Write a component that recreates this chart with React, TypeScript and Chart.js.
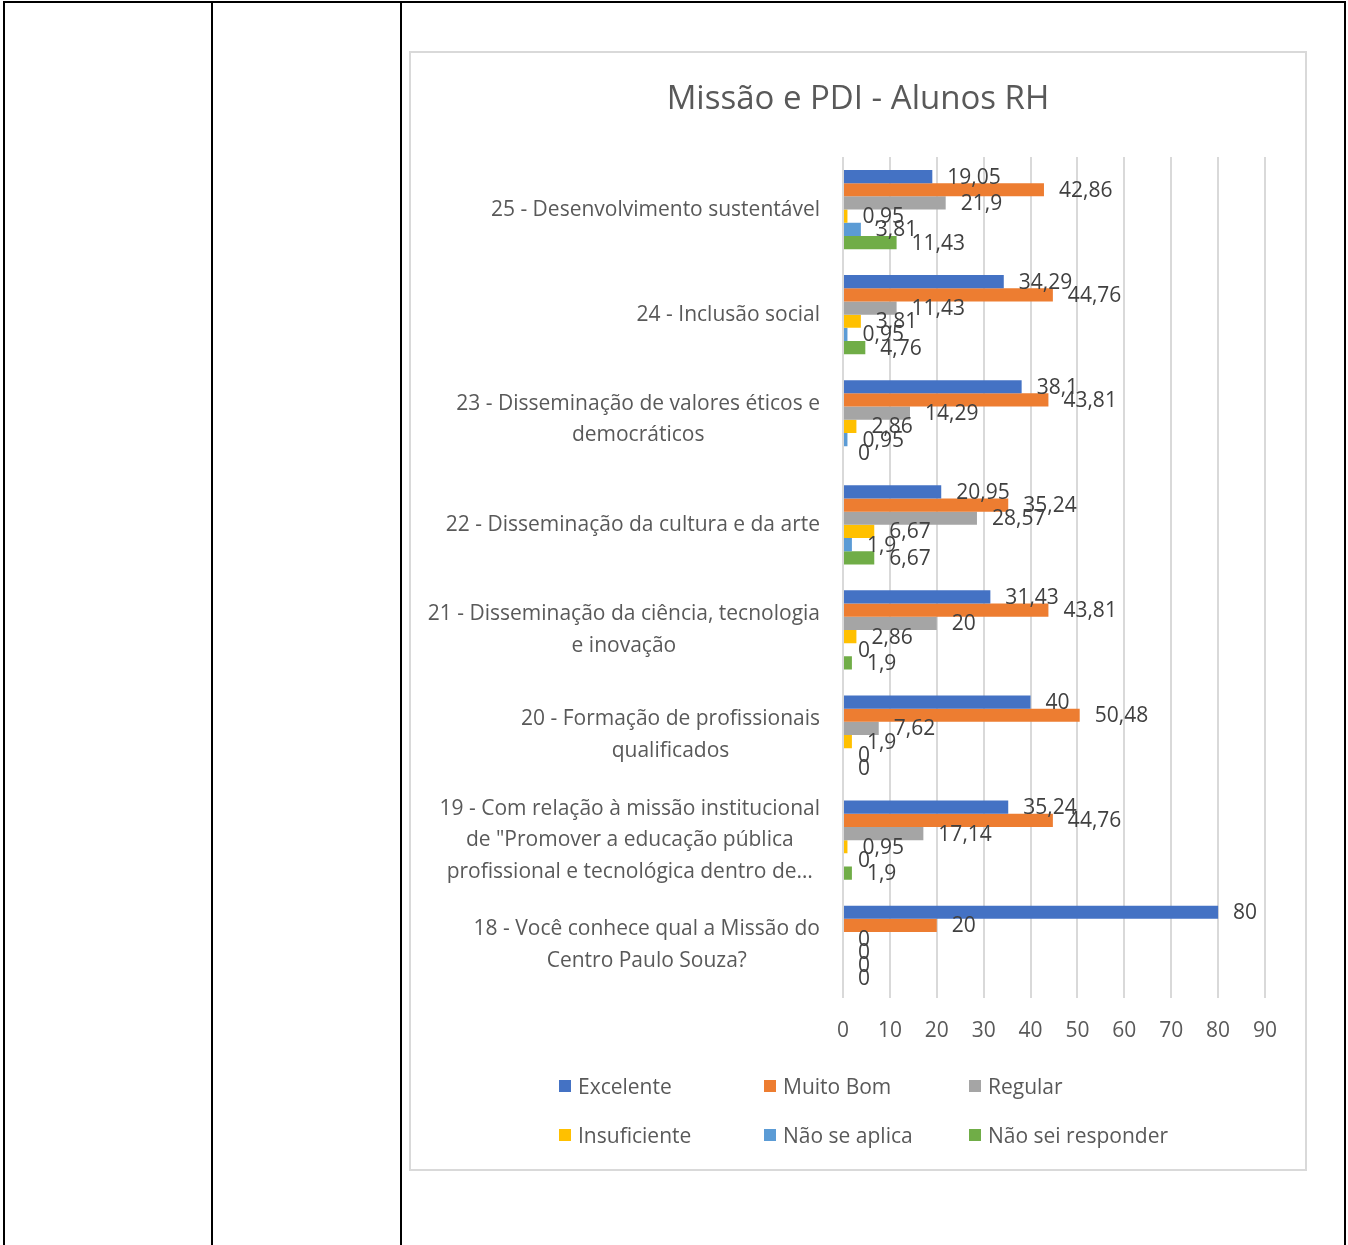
import React, { useEffect, useRef } from "react";
import { Chart, registerables } from "chart.js";

Chart.register(...registerables);

const categories: string[][] = [
  ["25 - Desenvolvimento sustentável"],
  ["24 - Inclusão social"],
  ["23 - Disseminação de valores éticos e", "democráticos"],
  ["22 - Disseminação da cultura e da arte"],
  ["21 - Disseminação da ciência, tecnologia", "e inovação"],
  ["20 - Formação de profissionais", "qualificados"],
  ["19 - Com relação à missão institucional", "de \"Promover a educação pública", "profissional e tecnológica dentro de…"],
  ["18 - Você conhece qual a Missão do", "Centro Paulo Souza?"],
];

const excelente = [19.05, 34.29, 38.1, 20.95, 31.43, 40, 35.24, 80];
const muitoBom = [42.86, 44.76, 43.81, 35.24, 43.81, 50.48, 44.76, 20];
const regular = [21.9, 11.43, 14.29, 28.57, 20, 7.62, 17.14, 0];
const insuficiente = [0.95, 3.81, 2.86, 6.67, 2.86, 1.9, 0.95, 0];
const naoSeAplica = [3.81, 0.95, 0.95, 1.9, 0, 0, 0, 0];
const naoSeiResponder = [11.43, 4.76, 0, 6.67, 1.9, 0, 1.9, 0];

const seriesNames = ["Excelente", "Muito Bom", "Regular", "Insuficiente", "Não se aplica", "Não sei responder"];
const seriesColors = ["#4472C4", "#ED7D31", "#A5A5A5", "#FFC000", "#5B9BD5", "#70AD47"];
const seriesData = [excelente, muitoBom, regular, insuficiente, naoSeAplica, naoSeiResponder];

const xTicks = [0, 10, 20, 30, 40, 50, 60, 70, 80, 90];

const FONT = "'Open Sans', Lato, sans-serif";
const TEXT = "#595959";
const FS = 21;

const dataLabelPlugin = {
  id: "dataLabels",
  afterDatasetsDraw(chart: any) {
    const ctx = chart.ctx;
    ctx.save();
    ctx.font = `${FS}px ${FONT}`;
    ctx.fillStyle = "#404040";
    ctx.textAlign = "left";
    ctx.textBaseline = "middle";
    chart.data.datasets.forEach((ds: any, di: number) => {
      const meta = chart.getDatasetMeta(di);
      meta.data.forEach((el: any, i: number) => {
        const v = ds.data[i];
        const txt = String(v).replace(".", ",");
        ctx.fillText(txt, el.x + 15, el.y + 1);
      });
    });
    ctx.restore();
  },
};

const categoryLabelPlugin = {
  id: "categoryLabels",
  afterDraw(chart: any) {
    const ctx = chart.ctx;
    const yScale = chart.scales.y;
    const right = chart.chartArea.left - 23;
    const lh = 31.5;
    ctx.save();
    ctx.font = `${FS}px ${FONT}`;
    ctx.fillStyle = TEXT;
    ctx.textAlign = "center";
    ctx.textBaseline = "middle";
    (chart.data.labels as string[][]).forEach((lines, i) => {
      const cy = yScale.getPixelForValue(i);
      const w = Math.max(...lines.map((l) => ctx.measureText(l).width));
      const cx = right - w / 2;
      lines.forEach((l, k) => {
        ctx.fillText(l, cx, cy + (k - (lines.length - 1) / 2) * lh);
      });
    });
    ctx.restore();
  },
};

function ChartBox() {
  const ref = useRef<HTMLCanvasElement>(null);
  useEffect(() => {
    if (!ref.current) return;
    const chart = new Chart(ref.current, {
      type: "bar",
      data: {
        labels: categories as any,
        datasets: seriesNames.map((n, i) => ({
          label: n,
          data: seriesData[i],
          backgroundColor: seriesColors[i],
          borderWidth: 0,
          categoryPercentage: 0.754,
          barPercentage: 1,
        })),
      },
      options: {
        indexAxis: "y",
        animation: false,
        responsive: false,
        maintainAspectRatio: false,
        layout: { padding: { left: 41, right: 41, top: 0, bottom: 105 } },
        plugins: {
          legend: { display: false },
          tooltip: { enabled: false },
          title: {
            display: true,
            text: "Missão e PDI - Alunos RH",
            color: TEXT,
            font: { family: FONT, size: 33, weight: "normal" },
            padding: { top: 27.5, bottom: 37.9 },
          },
        },
        scales: {
          x: {
            min: 0,
            max: 90,
            afterBuildTicks: (s: any) => {
              s.ticks = xTicks.map((v) => ({ value: v }));
            },
            grid: { color: "#d9d9d9", lineWidth: 2, drawTicks: false },
            border: { display: false },
            ticks: { color: TEXT, font: { family: FONT, size: FS }, padding: 21 },
          },
          y: {
            afterFit: (s: any) => {
              s.width = 392;
            },
            grid: { display: false, drawTicks: false },
            border: { display: false },
            ticks: { display: false },
          },
        },
      },
      plugins: [dataLabelPlugin, categoryLabelPlugin],
    });
    return () => chart.destroy();
  }, []);
  return <canvas ref={ref} width={896} height={1118} style={{ position: "absolute", left: 410, top: 52, width: 896, height: 1118 }} />;
}

export default function App() {
  const line = (s: React.CSSProperties) => <div style={{ position: "absolute", background: "#000", ...s }} />;
  const legendCols = [559, 764, 969];
  const legendRows = [1086, 1135];
  return (
    <div style={{ position: "absolute", left: 0, top: 0, width: 1348, height: 1245, background: "#fff", overflow: "hidden" }}>
      {line({ left: 3, top: 1, width: 1343, height: 2 })}
      {line({ left: 3, top: 1, width: 2, height: 1244 })}
      {line({ left: 211, top: 1, width: 2, height: 1244 })}
      {line({ left: 400, top: 1, width: 2, height: 1244 })}
      {line({ left: 1344, top: 1, width: 2, height: 1244 })}
      <ChartBox />
      <div style={{ position: "absolute", left: 409, top: 51, width: 898, height: 1120, boxSizing: "border-box", border: "2px solid #d9d9d9", pointerEvents: "none" }} />
      {seriesNames.map((n, i) => {
        const x = legendCols[i % 3];
        const y = legendRows[Math.floor(i / 3)];
        return (
          <div key={n} style={{ position: "absolute", left: x, top: y - 13, height: 26, display: "flex", alignItems: "center", fontFamily: FONT, fontSize: FS, color: TEXT, whiteSpace: "nowrap" }}>
            <span style={{ display: "inline-block", width: 12, height: 12, background: seriesColors[i], marginRight: 7 }} />
            <span>{n}</span>
          </div>
        );
      })}
    </div>
  );
}
